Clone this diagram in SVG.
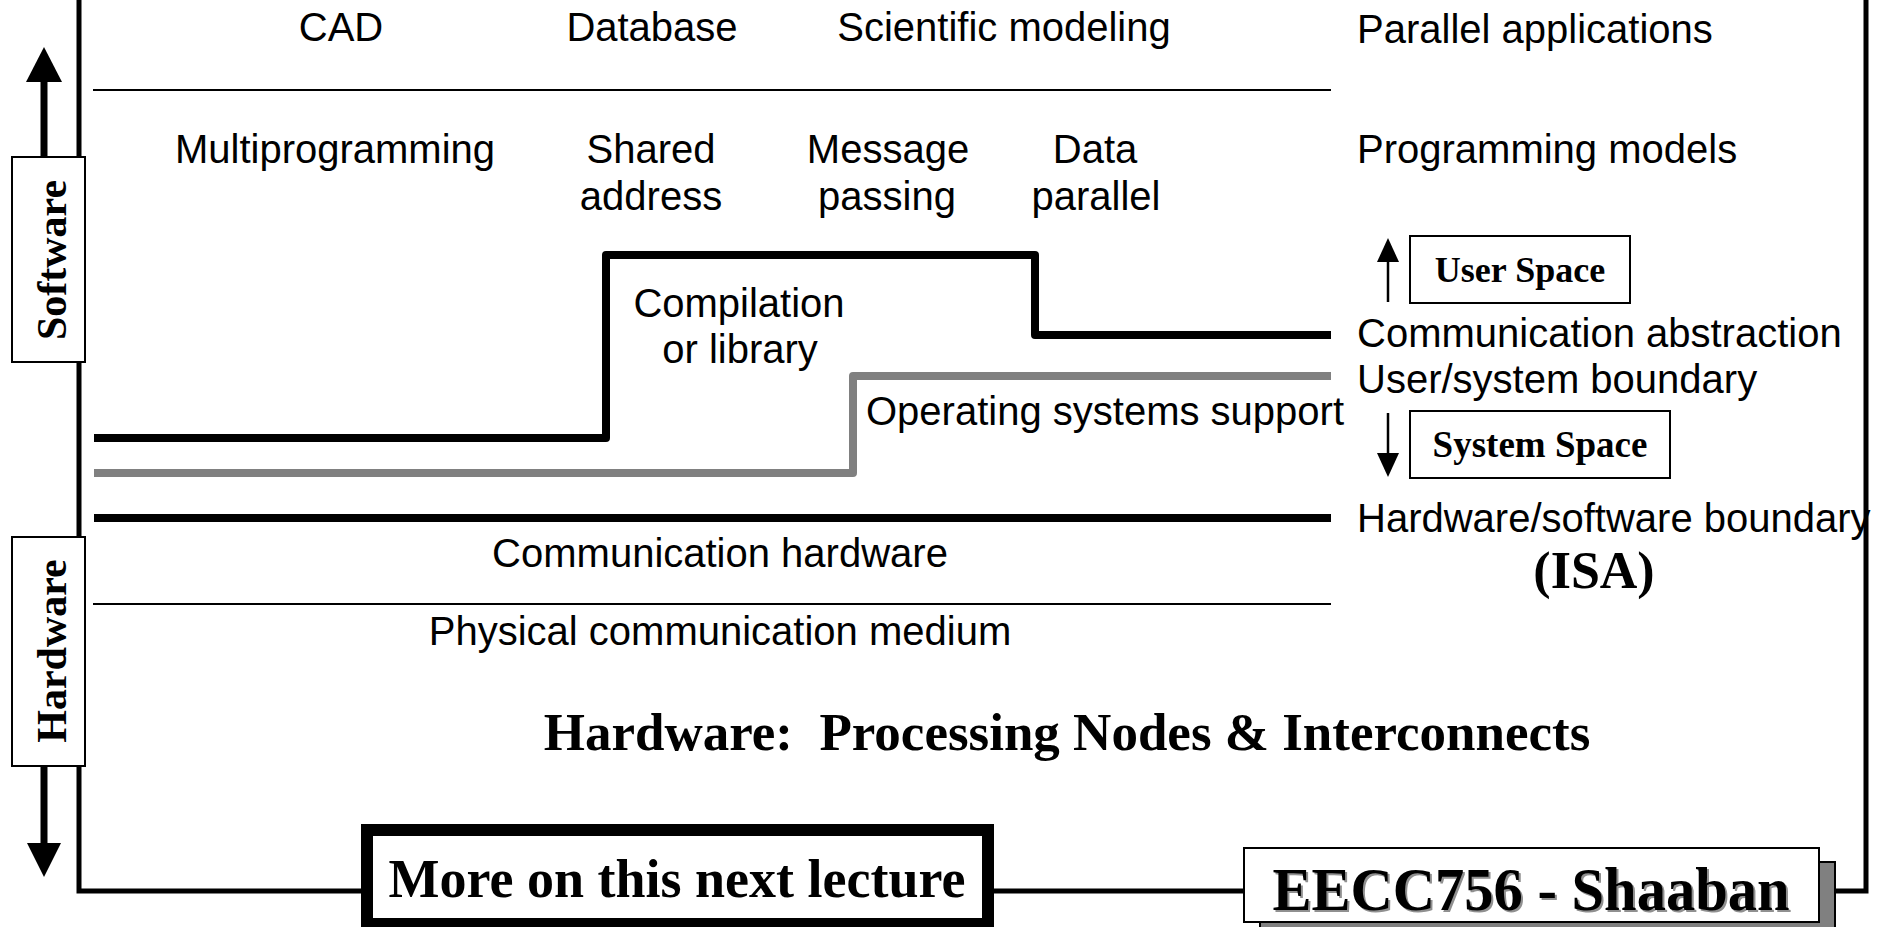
<svg xmlns="http://www.w3.org/2000/svg" width="1883" height="927" viewBox="0 0 1883 927">
<style>
.s{font-family:"Liberation Sans",Arial,sans-serif;font-size:40px;fill:#000}
.m{text-anchor:middle}
.b{font-family:"Liberation Serif","Times New Roman",serif;font-weight:bold;fill:#000}
.frame{fill:none;stroke:#000;stroke-width:5}
.box{fill:#fff;stroke:#000;stroke-width:2}
.thick{fill:none;stroke:#000;stroke-width:8}
.gray{fill:none;stroke:#808080;stroke-width:8}
.thin{fill:none;stroke:#000;stroke-width:2}
</style>
<rect width="1883" height="927" fill="#fff"/>
<g id="frame">
<path class="frame" d="M79 0 V891 H362 M994 891 H1245 M1834 891 H1866 V0"/>
</g>
<g id="connectors">
<line class="thin" x1="93" y1="90" x2="1331" y2="90"/>
<path class="thick" d="M94 438 H606 V255 H1035 V335 H1331" stroke-linejoin="round"/>
<path class="gray" d="M94 473 H853 V376 H1331" stroke-linejoin="round"/>
<line class="thick" x1="94" y1="518" x2="1331" y2="518"/>
<line class="thin" x1="93" y1="604" x2="1331" y2="604"/>
<line x1="44" y1="80" x2="44" y2="157" stroke="#000" stroke-width="7"/>
<polygon points="44,47 26,82 62,82" fill="#000"/>
<line x1="44" y1="766" x2="44" y2="845" stroke="#000" stroke-width="7"/>
<polygon points="44,877 27,843 61,843" fill="#000"/>
<line x1="1388" y1="302" x2="1388" y2="258" stroke="#000" stroke-width="2.5"/>
<polygon points="1388,238 1377,262 1399,262" fill="#000"/>
<line x1="1388" y1="413" x2="1388" y2="455" stroke="#000" stroke-width="2.5"/>
<polygon points="1388,477 1377,453 1399,453" fill="#000"/>
</g>
<g id="software">
<rect class="box" x="12" y="157" width="73" height="205"/>
<text class="b m" font-size="42" transform="translate(66,260) rotate(-90)">Software</text>
</g>
<g id="hardware">
<rect class="box" x="12" y="537" width="73" height="229"/>
<text class="b m" font-size="42" transform="translate(66,651) rotate(-90)">Hardware</text>
</g>
<g id="apps">
<text class="s m" x="341" y="41">CAD</text>
<text class="s m" x="652" y="41">Database</text>
<text class="s m" x="1004" y="41">Scientific modeling</text>
<text class="s" x="1357" y="43">Parallel applications</text>
</g>
<g id="models">
<text class="s m" x="335" y="163">Multiprogramming</text>
<text class="s m" x="651" y="163">Shared</text>
<text class="s m" x="651" y="210">address</text>
<text class="s m" x="888" y="163">Message</text>
<text class="s m" x="887" y="210">passing</text>
<text class="s m" x="1095" y="163">Data</text>
<text class="s m" x="1096" y="210">parallel</text>
<text class="s" x="1357" y="163">Programming models</text>
</g>
<g id="layers">
<text class="s m" x="739" y="317">Compilation</text>
<text class="s m" x="740" y="363">or library</text>
<text class="s" x="866" y="425">Operating systems support</text>
<text class="s" x="1357" y="347">Communication abstraction</text>
<text class="s" x="1357" y="393">User/system boundary</text>
<text class="s" x="1357" y="532">Hardware/software boundary</text>
<text class="b m" font-size="52" x="1594" y="588">(ISA)</text>
<text class="s m" x="720" y="567">Communication hardware</text>
<text class="s m" x="720" y="645">Physical communication medium</text>
<text class="b m" font-size="53" x="1067" y="750" style="white-space:pre">Hardware:  Processing Nodes &amp; Interconnects</text>
</g>
<g id="userspace">
<rect class="box" x="1410" y="236" width="220" height="67"/>
<text class="b m" font-size="36" x="1520" y="282">User Space</text>
</g>
<g id="systemspace">
<rect class="box" x="1410" y="411" width="260" height="67"/>
<text class="b m" font-size="37" x="1540" y="457">System Space</text>
</g>
<g id="more">
<rect x="367" y="830" width="621" height="94" fill="#fff" stroke="#000" stroke-width="12"/>
<text class="b m" font-size="54" x="677" y="897">More on this next lecture</text>
</g>
<g id="footer">
<rect x="1260" y="862" width="575" height="74" fill="#808080" stroke="#000" stroke-width="2"/>
<rect class="box" x="1244" y="848" width="575" height="74"/>
<text class="b m" font-size="62" x="1533" y="912" fill="#808080" style="fill:#909090" textLength="517" lengthAdjust="spacingAndGlyphs">EECC756 - Shaaban</text>
<text class="b m" font-size="62" x="1531" y="910" textLength="517" lengthAdjust="spacingAndGlyphs">EECC756 - Shaaban</text>
</g>
</svg>
